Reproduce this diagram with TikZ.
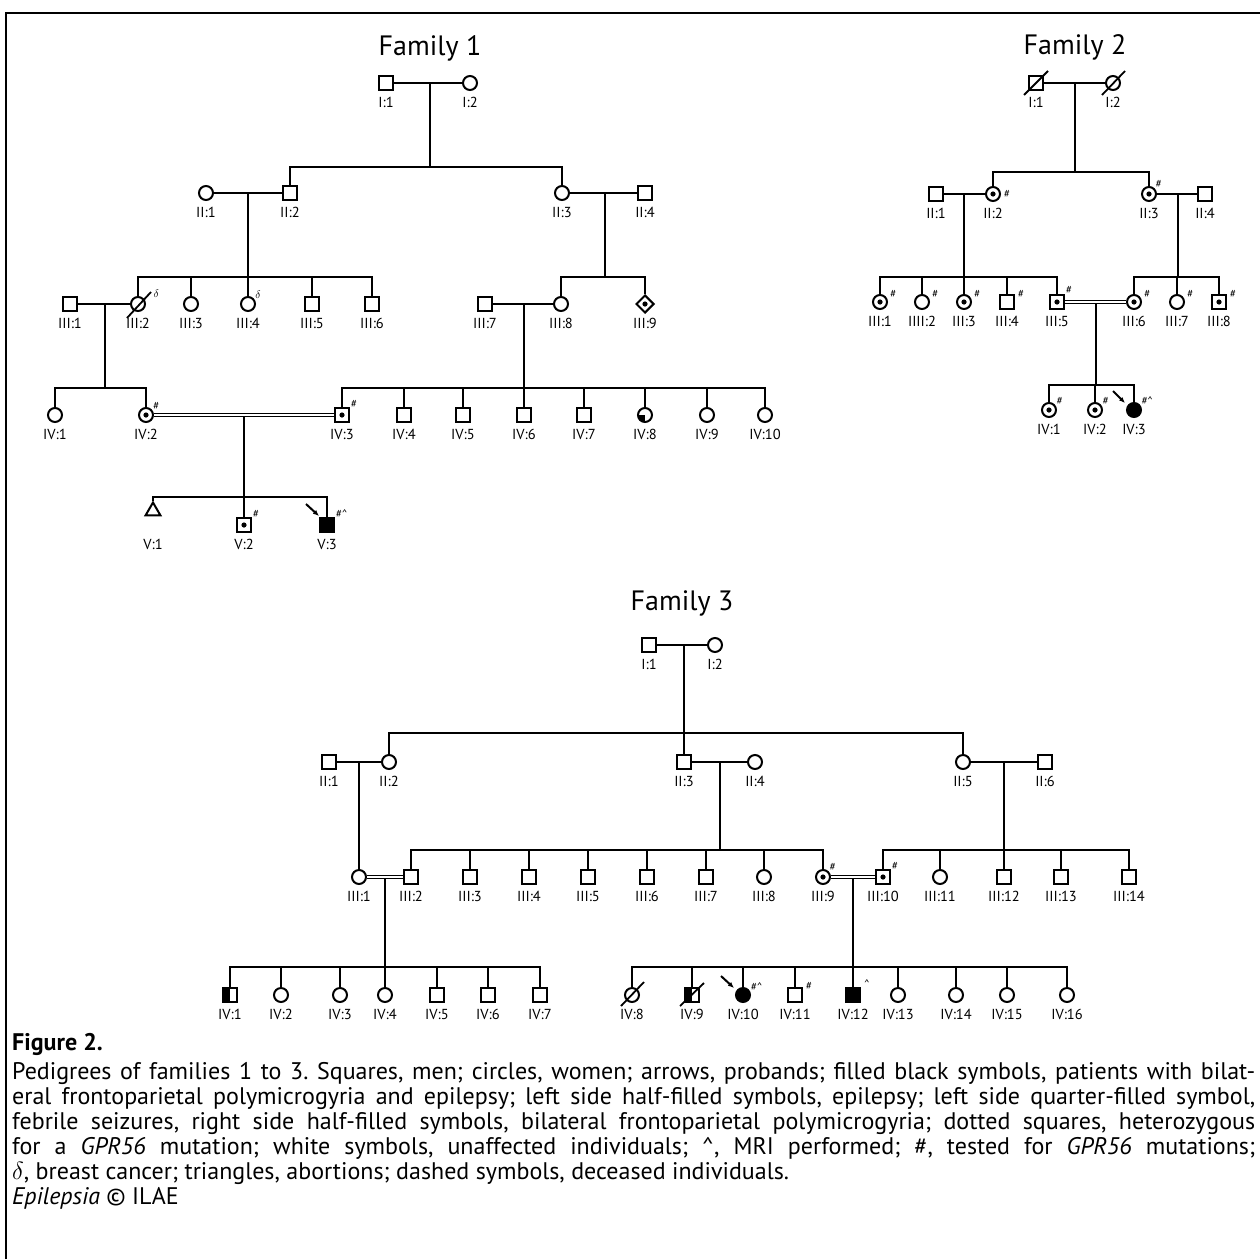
\documentclass[tikz,border=0pt]{standalone}
\usepackage{fontspec}
\setmainfont{PT Sans}
\usetikzlibrary{shapes.geometric,arrows.meta}
\newcommand{\labfont}{\fontsize{14.5}{16}\selectfont}
\newcommand{\notefont}{\fontsize{11}{12}\selectfont\itshape}
\newcommand{\famfont}{\fontsize{28}{32}\selectfont}
\newcommand{\capfont}{\fontsize{24}{25}\selectfont\frenchspacing}
\tikzset{
 person/.style={draw, line width=2pt, inner sep=0pt, minimum size=14pt, fill=white},
 male/.style={person, rectangle},
 female/.style={person, circle},
 unknown/.style={person, diamond, minimum size=18pt},
 abort/.style={person, regular polygon, regular polygon sides=3, minimum size=17pt},
 carrier/.style={path picture={\fill[black] (path picture bounding box.center) circle (2.6pt);}},
 affected/.style={fill=black},
 lefthalf/.style={path picture={\fill[black] (path picture bounding box.south west) rectangle (path picture bounding box.north);}},
 quarter/.style={path picture={\fill[black] (path picture bounding box.south west) rectangle (path picture bounding box.center);}},
 note/.style={font=\notefont, inner sep=0.5pt, label distance=0pt},
 conn/.style={line width=1.8pt},
 dbl/.style={line width=1pt, double distance=2.4pt},
 dead/.style={line width=1.8pt},
 proband/.style={line width=2pt, -{Latex[length=6pt,width=5pt]}},
 every label/.style={font=\labfont, inner sep=1pt}
}
\begin{document}
\begin{tikzpicture}[x=1pt, y=-1pt, label distance=5pt]
\useasboundingbox (0,0) rectangle (1260,1259);
\draw[line width=2pt] (6,1259) -- (6,13) -- (1260,13);

% Family 1
\node[font=\famfont] (f1title) at (430,48) {Family 1};
\node[male, label=below:{I:1}] (f1i1) at (386,83) {};
\node[female, label=below:{I:2}] (f1i2) at (470,83) {};
\node[female, label=below:{II:1}] (f1ii1) at (206,193) {};
\node[male, label=below:{II:2}] (f1ii2) at (290,193) {};
\node[female, label=below:{II:3}] (f1ii3) at (562,193) {};
\node[male, label=below:{II:4}] (f1ii4) at (645,193) {};
\node[male, label=below:{III:1}] (f1iii1) at (70,304) {};
\node[female, label=below:{III:2}, label={[note, label distance=8pt]20:$\delta$}] (f1iii2) at (138,304) {};
\node[female, label=below:{III:3}] (f1iii3) at (191,304) {};
\node[female, label=below:{III:4}, label={[note]35:$\delta$}] (f1iii4) at (248,304) {};
\node[male, label=below:{III:5}] (f1iii5) at (312,304) {};
\node[male, label=below:{III:6}] (f1iii6) at (372,304) {};
\node[male, label=below:{III:7}] (f1iii7) at (485,304) {};
\node[female, label=below:{III:8}] (f1iii8) at (561,304) {};
\node[unknown, carrier, label={[label distance=3pt]below:{III:9}}] (f1iii9) at (645,304) {};
\node[female, label=below:{IV:1}] (f1iv1) at (55,415) {};
\node[female, carrier, label=below:{IV:2}, label={[note]40:\#}] (f1iv2) at (146,415) {};
\node[male, carrier, label=below:{IV:3}, label={[note]40:\#}] (f1iv3) at (342,415) {};
\node[male, label=below:{IV:4}] (f1iv4) at (404,415) {};
\node[male, label=below:{IV:5}] (f1iv5) at (463,415) {};
\node[male, label=below:{IV:6}] (f1iv6) at (524,415) {};
\node[male, label=below:{IV:7}] (f1iv7) at (584,415) {};
\node[female, quarter, label=below:{IV:8}] (f1iv8) at (645,415) {};
\node[female, label=below:{IV:9}] (f1iv9) at (707,415) {};
\node[female, label=below:{IV:10}] (f1iv10) at (765,415) {};
\node[abort, label={[label distance=22pt]below:{V:1}}] (f1v1) at (153,511) {};
\node[male, carrier, label=below:{V:2}, label={[note]40:\#}] (f1v2) at (244,525) {};
\node[male, affected, label=below:{V:3}, label={[note]40:\#\textasciicircum}] (f1v3) at (327,525) {};
\draw[dead] ([shift={(-11,14)}]f1iii2.center) -- ([shift={(13,-12)}]f1iii2.center);
\draw[proband] ([shift={(-21,-21)}]f1v3.center) -- ([shift={(-8,-9)}]f1v3.center);

\coordinate (f1m1) at (430,83);
\coordinate (f1s1) at (430,167);
\coordinate (f1m2) at (248,193);
\coordinate (f1s2) at (248,277);
\coordinate (f1m3) at (605,193);
\coordinate (f1s3) at (605,277);
\coordinate (f1m4) at (105,304);
\coordinate (f1s4) at (105,388);
\coordinate (f1m5) at (524,304);
\coordinate (f1s5) at (524,388);
\coordinate (f1m6) at (244,416);
\coordinate (f1s6) at (244,497);
\draw[conn] (f1i1) -- (f1i2);
\draw[conn] (f1m1) -- (f1s1);
\draw[conn] (f1ii2.north) |- (f1s1) -| (f1ii3.north);
\draw[conn] (f1ii1) -- (f1ii2);
\draw[conn] (f1m2) -- (f1s2);
\draw[conn] (f1iii2.north) |- (f1s2) -| (f1iii6.north);
\foreach \c in {f1iii3,f1iii4,f1iii5} \draw[conn] (\c.north) -- (\c.north |- f1s2);
\draw[conn] (f1ii3) -- (f1ii4);
\draw[conn] (f1m3) -- (f1s3);
\draw[conn] (f1iii8.north) |- (f1s3) -| (f1iii9.north);
\draw[conn] (f1iii1) -- (f1iii2);
\draw[conn] (f1m4) -- (f1s4);
\draw[conn] (f1iv1.north) |- (f1s4) -| (f1iv2.north);
\draw[conn] (f1iii7) -- (f1iii8);
\draw[conn] (f1m5) -- (f1s5);
\draw[conn] (f1iv3.north) |- (f1s5) -| (f1iv10.north);
\foreach \c in {f1iv4,f1iv5,f1iv6,f1iv7,f1iv8,f1iv9} \draw[conn] (\c.north) -- (\c.north |- f1s5);
\draw[dbl] (f1iv2) -- (f1iv3);
\draw[conn] (f1m6) -- (f1s6);
\draw[conn] (f1v1.north) |- (f1s6) -| (f1v3.north);
\draw[conn] (f1v2.north) -- (f1s6);

% Family 2
\node[font=\famfont] (f2title) at (1075,47) {Family 2};
\node[male, label=below:{I:1}] (f2i1) at (1036,83) {};
\node[female, label=below:{I:2}] (f2i2) at (1113,83) {};
\node[male, label=below:{II:1}] (f2ii1) at (936,194) {};
\node[female, carrier, label=below:{II:2}, label={[note]0:\,\#}] (f2ii2) at (993,194) {};
\node[female, carrier, label=below:{II:3}, label={[note]45:\#}] (f2ii3) at (1149,194) {};
\node[male, label=below:{II:4}] (f2ii4) at (1205,194) {};
\node[female, carrier, label=below:{III:1}, label={[note]25:\,\#}] (f2iii1) at (880,302) {};
\node[female, label=below:{IIII:2}, label={[note]25:\,\#}] (f2iii2) at (922,302) {};
\node[female, carrier, label=below:{III:3}, label={[note]25:\,\#}] (f2iii3) at (964,302) {};
\node[male, label=below:{III:4}, label={[note]25:\,\#}] (f2iii4) at (1007,302) {};
\node[male, carrier, label=below:{III:5}, label={[note]45:\#}] (f2iii5) at (1057,302) {};
\node[female, carrier, label=below:{III:6}, label={[note]25:\,\#}] (f2iii6) at (1134,302) {};
\node[female, label=below:{III:7}, label={[note]25:\,\#}] (f2iii7) at (1177,302) {};
\node[male, carrier, label=below:{III:8}, label={[note]25:\,\#}] (f2iii8) at (1219,302) {};
\node[female, carrier, label=below:{IV:1}, label={[note]35:\#}] (f2iv1) at (1049,410) {};
\node[female, carrier, label=below:{IV:2}, label={[note]35:\#}] (f2iv2) at (1095,410) {};
\node[female, affected, label=below:{IV:3}, label={[note]35:\#\textasciicircum}] (f2iv3) at (1134,410) {};
\draw[dead] ([shift={(-12,12)}]f2i1.center) -- ([shift={(12,-12)}]f2i1.center);
\draw[dead] ([shift={(-11,12)}]f2i2.center) -- ([shift={(12,-12)}]f2i2.center);
\draw[proband] ([shift={(-21,-19)}]f2iv3.center) -- ([shift={(-9,-7)}]f2iv3.center);

\coordinate (f2m1) at (1075,83);
\coordinate (f2s1) at (1075,172);
\coordinate (f2m2) at (964,194);
\coordinate (f2s2) at (964,277);
\coordinate (f2m3) at (1178,194);
\coordinate (f2s3) at (1178,277);
\coordinate (f2m4) at (1096,303);
\coordinate (f2s4) at (1096,385);
\draw[conn] (f2i1) -- (f2i2);
\draw[conn] (f2m1) -- (f2s1);
\draw[conn] (f2ii2.north) |- (f2s1) -| (f2ii3.north);
\draw[conn] (f2ii1) -- (f2ii2);
\draw[conn] (f2m2) -- (f2s2);
\draw[conn] (f2iii1.north) |- (f2s2) -| (f2iii5.north);
\foreach \c in {f2iii2,f2iii3,f2iii4} \draw[conn] (\c.north) -- (\c.north |- f2s2);
\draw[conn] (f2ii3) -- (f2ii4);
\draw[conn] (f2m3) -- (f2s3);
\draw[conn] (f2iii6.north) |- (f2s3) -| (f2iii8.north);
\draw[conn] (f2iii7.north) -- (f2iii7.north |- f2s3);
\draw[dbl] (f2iii5) -- (f2iii6);
\draw[conn] (f2m4) -- (f2s4);
\draw[conn] (f2iv1.north) |- (f2s4) -| (f2iv3.north);
\draw[conn] (f2iv2.north) -- (f2iv2.north |- f2s4);

% Family 3
\node[font=\famfont] (f3title) at (682,603) {Family 3};
\node[male, label=below:{I:1}] (f3i1) at (649,645) {};
\node[female, label=below:{I:2}] (f3i2) at (715,645) {};
\node[male, label=below:{II:1}] (f3ii1) at (329,762) {};
\node[female, label=below:{II:2}] (f3ii2) at (389,762) {};
\node[male, label=below:{II:3}] (f3ii3) at (684,762) {};
\node[female, label=below:{II:4}] (f3ii4) at (755,762) {};
\node[female, label=below:{II:5}] (f3ii5) at (963,762) {};
\node[male, label=below:{II:6}] (f3ii6) at (1045,762) {};
\node[female, label=below:{III:1}] (f3iii1) at (359,877) {};
\node[male, label=below:{III:2}] (f3iii2) at (411,877) {};
\node[male, label=below:{III:3}] (f3iii3) at (470,877) {};
\node[male, label=below:{III:4}] (f3iii4) at (529,877) {};
\node[male, label=below:{III:5}] (f3iii5) at (588,877) {};
\node[male, label=below:{III:6}] (f3iii6) at (647,877) {};
\node[male, label=below:{III:7}] (f3iii7) at (706,877) {};
\node[female, label=below:{III:8}] (f3iii8) at (764,877) {};
\node[female, carrier, label=below:{III:9}, label={[note]45:\#}] (f3iii9) at (823,877) {};
\node[male, carrier, label=below:{III:10}, label={[note]40:\#}] (f3iii10) at (883,877) {};
\node[female, label=below:{III:11}] (f3iii11) at (940,877) {};
\node[male, label=below:{III:12}] (f3iii12) at (1004,877) {};
\node[male, label=below:{III:13}] (f3iii13) at (1061,877) {};
\node[male, label=below:{III:14}] (f3iii14) at (1129,877) {};
\node[male, lefthalf, label=below:{IV:1}] (f3iv1) at (230,995) {};
\node[female, label=below:{IV:2}] (f3iv2) at (281,995) {};
\node[female, label=below:{IV:3}] (f3iv3) at (340,995) {};
\node[female, label=below:{IV:4}] (f3iv4) at (385,995) {};
\node[male, label=below:{IV:5}] (f3iv5) at (437,995) {};
\node[male, label=below:{IV:6}] (f3iv6) at (488,995) {};
\node[male, label=below:{IV:7}] (f3iv7) at (540,995) {};
\node[female, label=below:{IV:8}] (f3iv8) at (632,995) {};
\node[male, lefthalf, label=below:{IV:9}] (f3iv9) at (692,995) {};
\node[female, affected, label=below:{IV:10}, label={[note]30:\#\textasciicircum}] (f3iv10) at (743,995) {};
\node[male, label=below:{IV:11}, label={[note]30:\,\#}] (f3iv11) at (795,995) {};
\node[male, affected, label=below:{IV:12}, label={[note]40:\,\textasciicircum}] (f3iv12) at (853,995) {};
\node[female, label=below:{IV:13}] (f3iv13) at (898,995) {};
\node[female, label=below:{IV:14}] (f3iv14) at (956,995) {};
\node[female, label=below:{IV:15}] (f3iv15) at (1007,995) {};
\node[female, label=below:{IV:16}] (f3iv16) at (1067,995) {};
\draw[dead] ([shift={(-11,11)}]f3iv8.center) -- ([shift={(12,-13)}]f3iv8.center);
\draw[dead] ([shift={(-12,11)}]f3iv9.center) -- ([shift={(12,-12)}]f3iv9.center);
\draw[proband] ([shift={(-22,-19)}]f3iv10.center) -- ([shift={(-9,-7)}]f3iv10.center);

\coordinate (f3m1) at (684,645);
\coordinate (f3s1) at (684,733);
\coordinate (f3m2) at (359,762);
\coordinate (f3m3) at (720,762);
\coordinate (f3s3) at (720,850);
\coordinate (f3m4) at (1004,762);
\coordinate (f3s4) at (1004,850);
\coordinate (f3m5) at (385,878);
\coordinate (f3s5) at (385,967);
\coordinate (f3m6) at (853,878);
\coordinate (f3s6) at (853,967);
\draw[conn] (f3i1) -- (f3i2);
\draw[conn] (f3m1) -- (f3s1);
\draw[conn] (f3ii2.north) |- (f3s1) -| (f3ii5.north);
\draw[conn] (f3ii3.north) -- (f3s1);
\draw[conn] (f3ii1) -- (f3ii2);
\draw[conn] (f3m2) -- (f3iii1.north);
\draw[conn] (f3ii3) -- (f3ii4);
\draw[conn] (f3m3) -- (f3s3);
\draw[conn] (f3iii2.north) |- (f3s3) -| (f3iii9.north);
\foreach \c in {f3iii3,f3iii4,f3iii5,f3iii6,f3iii7,f3iii8} \draw[conn] (\c.north) -- (\c.north |- f3s3);
\draw[conn] (f3ii5) -- (f3ii6);
\draw[conn] (f3m4) -- (f3s4);
\draw[conn] (f3iii10.north) |- (f3s4) -| (f3iii14.north);
\foreach \c in {f3iii11,f3iii12,f3iii13} \draw[conn] (\c.north) -- (\c.north |- f3s4);
\draw[dbl] (f3iii1) -- (f3iii2);
\draw[conn] (f3m5) -- (f3s5);
\draw[conn] (f3iv1.north) |- (f3s5) -| (f3iv7.north);
\foreach \c in {f3iv2,f3iv3,f3iv4,f3iv5,f3iv6} \draw[conn] (\c.north) -- (\c.north |- f3s5);
\draw[dbl] (f3iii9) -- (f3iii10);
\draw[conn] (f3m6) -- (f3s6);
\draw[conn] (f3iv8.north) |- (f3s6) -| (f3iv16.north);
\foreach \c in {f3iv9,f3iv10,f3iv11,f3iv12,f3iv13,f3iv14,f3iv15} \draw[conn] (\c.north) -- (\c.north |- f3s6);

% caption
\node[anchor=north west, font=\capfont, align=left, inner sep=0pt] (caption) at (12,1033) {%
\textbf{Figure 2.}\\[4pt]
\hbox to 1243pt{Pedigrees of families 1 to 3. Squares, men; circles, women; arrows, probands; filled black symbols, patients with bilat-}\\
\hbox to 1243pt{eral frontoparietal polymicrogyria and epilepsy; left side half-filled symbols, epilepsy; left side quarter-filled symbol,}\\
\hbox to 1243pt{febrile seizures, right side half-filled symbols, bilateral frontoparietal polymicrogyria; dotted squares, heterozygous}\\
\hbox to 1243pt{for a \textit{GPR56} mutation; white symbols, unaffected individuals; \textasciicircum, MRI performed; \#, tested for \textit{GPR56} mutations;}\\
$\delta$, breast cancer; triangles, abortions; dashed symbols, deceased individuals.\\
\textit{Epilepsia} \textcopyright\ ILAE};
\end{tikzpicture}
\end{document}
